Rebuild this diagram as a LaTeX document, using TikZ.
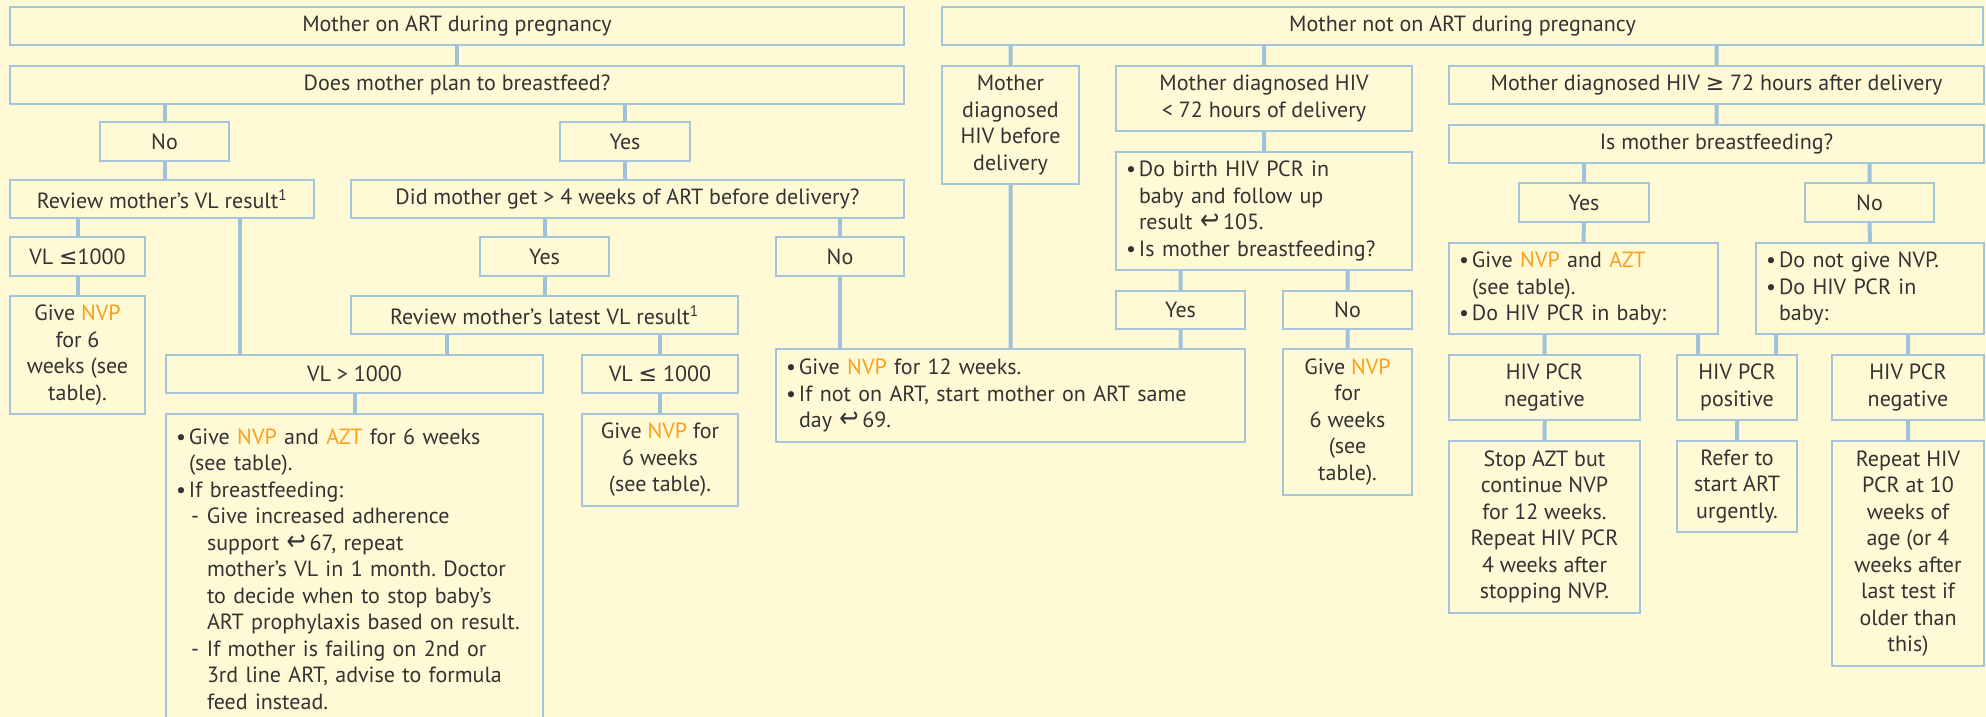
\documentclass[tikz,border=0pt]{standalone}
\usepackage{fontspec}
\setmainfont{PT Sans}
\newfontfamily\dvfont{DejaVu Sans}
\usepackage{tikz}
\frenchspacing

\definecolor{paper}{HTML}{FFF9D6}
\definecolor{boxblue}{HTML}{A3C6DC}
\definecolor{linkblue}{HTML}{9EC2D9}
\definecolor{ink}{HTML}{333333}
\definecolor{drug}{HTML}{F8A11D}

\newcommand\drug[1]{\textcolor{drug}{#1}}
\newcommand\pgref{{\dvfont\scalebox{1.05}[1.25]{↩}}}
\newcommand\vle{{\dvfont ≤}}
\newcommand\vge{{\dvfont ≥}}
\newcommand\bitem{\makebox[13pt][l]{\textbullet}}
\newcommand\bcont{\hspace*{13pt}}
\newcommand\ditem{\hspace*{15pt}\makebox[16pt][l]{-}}
\newcommand\dcont{\hspace*{31pt}}
\newcommand\boxfont{\fontsize{22}{26.5}\selectfont}

\tikzset{
  box/.style={draw=boxblue, line width=2pt, fill=paper, text=ink, inner sep=0pt, align=center, font=\boxfont},
  dims/.style 2 args={minimum width=#1pt, minimum height=#2pt},
  bulletbox/.style={box, align=left, inner xsep=10pt},
  link/.style={draw=linkblue, line width=4pt},
}

\begin{document}
\begin{tikzpicture}[x=1pt, y=-1pt]
\useasboundingbox (0,0) rectangle (1986,717);
\clip (0,0) rectangle (1986,717);
\fill[paper] (0,0) rectangle (1986,717);

% mother on ART
\node[box, dims={894}{38}] (onart) at (457,26) {Mother on ART during pregnancy};
\node[box, dims={894}{38}] (plan) at (457,85) {Does mother plan to breastfeed?};
\node[box, dims={129}{39}] (no1) at (164.5,141.5) {No};
\node[box, dims={130}{39}] (yes1) at (625,141.5) {Yes};
\node[box, dims={304}{38}] (review) at (162,199) {Review mother’s VL result\textsuperscript{1}};
\node[box, dims={553}{38}] (did) at (627.5,199) {Did mother get > 4 weeks of ART before delivery?};
\node[box, dims={135}{39}] (vlle1) at (77.5,256.5) {VL \vle1000};
\node[box, dims={135}{118}] (nvpleft) at (77.5,355) {Give \drug{NVP}\\for 6\\weeks (see\\table).};
\node[box, dims={129}{39}] (yes2) at (544.5,256.5) {Yes};
\node[box, dims={128}{39}] (no2) at (840,256.5) {No};
\node[box, dims={387}{38}] (latest) at (544.5,315) {Review mother’s latest VL result\textsuperscript{1}};
\node[box, dims={377}{38}] (vlhi) at (354.5,374) {VL > 1000};
\node[box, dims={156}{38}] (vlle2) at (660,374) {VL \vle{} 1000};
\node[bulletbox, dims={377}{310}, text width=357pt] (feedplan) at (354.5,569)
  {\bitem Give \drug{NVP} and \drug{AZT} for 6 weeks\\
   \bcont (see table).\\
   \bitem If breastfeeding:\\
   \ditem Give increased adherence\\
   \dcont support \pgref\,67, repeat\\
   \dcont mother's VL in 1 month. Doctor\\
   \dcont to decide when to stop baby’s\\
   \dcont ART prophylaxis based on result.\\
   \ditem If mother is failing on 2nd or\\
   \dcont 3rd line ART, advise to formula\\
   \dcont feed instead.};
\node[box, dims={156}{92}] (nvpmid) at (660,460) {Give \drug{NVP} for\\6 weeks\\(see table).};

% mother not on ART
\node[box, dims={1041}{38}] (notart) at (1462.5,26) {Mother not on ART during pregnancy};
\node[box, dims={137}{118}] (before) at (1010.5,125) {Mother\\diagnosed\\HIV before\\delivery};
\node[box, dims={296}{65}] (lt72) at (1264,98.5) {Mother diagnosed HIV\\< 72 hours of delivery};
\node[bulletbox, dims={296}{118}, text width=276pt] (birth) at (1264,211)
  {\bitem Do birth HIV PCR in\\
   \bcont baby and follow up\\
   \bcont result \pgref\,105.\\
   \bitem Is mother breastfeeding?};
\node[box, dims={129}{38}] (yes3) at (1180.5,310) {Yes};
\node[box, dims={129}{38}] (no3) at (1347.5,310) {No};
\node[bulletbox, dims={469}{93}, text width=449pt] (nvp12) at (1010.5,395.5)
  {\bitem Give \drug{NVP} for 12 weeks.\\
   \bitem If not on ART, start mother on ART same\\
   \bcont day \pgref\,69.};
\node[box, dims={129}{146}] (nvpright) at (1347.5,422) {Give \drug{NVP}\\for\\6 weeks\\(see\\table).};

\node[box, dims={535}{38}] (ge72) at (1716.5,85) {Mother diagnosed HIV \vge{} 72 hours after delivery};
\node[box, dims={535}{38}] (isbf) at (1716.5,144) {Is mother breastfeeding?};
\node[box, dims={130}{39}] (yes4) at (1584,202.5) {Yes};
\node[box, dims={129}{39}] (no4) at (1869.5,202.5) {No};
\node[bulletbox, dims={269}{91}, text width=249pt] (buly) at (1583.5,288.5)
  {\bitem Give \drug{NVP} and \drug{AZT}\\
   \bcont (see table).\\
   \bitem Do HIV PCR in baby:};
\node[bulletbox, dims={228}{91}, text width=208pt] (buln) at (1870,288.5)
  {\bitem Do not give NVP.\\
   \bitem Do HIV PCR in\\
   \bcont baby:};
\node[box, dims={191}{65}] (neg1) at (1544.5,387.5) {HIV PCR\\negative};
\node[box, dims={120}{65}] (pos) at (1737,387.5) {HIV PCR\\positive};
\node[box, dims={152}{65}] (neg2) at (1908,387.5) {HIV PCR\\negative};
\node[box, dims={191}{172}] (stop) at (1544.5,527) {Stop AZT but\\continue NVP\\for 12 weeks.\\Repeat HIV PCR\\4 weeks after\\stopping NVP.};
\node[box, dims={120}{91}] (refer) at (1737,486.5) {Refer to\\start ART\\urgently.};
\node[box, dims={152}{225}] (repeat) at (1908,553.5) {Repeat HIV\\PCR at 10\\weeks of\\age (or 4\\weeks after\\last test if\\older than\\this)};

% connectors
\draw[link]
  (onart.south) -- (plan.north)
  (plan.south -| no1) -- (no1.north)
  (plan.south -| yes1) -- (yes1.north)
  (no1.south) -- (no1.south |- review.north)
  (yes1.south) -- (yes1.south |- did.north)
  (review.south -| vlle1) -- (vlle1.north)
  (vlle1.south) -- (nvpleft.north)
  (review.south -| 240,0) -- (vlhi.north -| 240,0)
  (did.south -| yes2) -- (yes2.north)
  (yes2.south) -- (latest.north)
  (did.south -| no2) -- (no2.north)
  (latest.south -| 447,0) -- (vlhi.north -| 447,0)
  (latest.south -| vlle2) -- (vlle2.north)
  (vlhi.south) -- (feedplan.north)
  (vlle2.south) -- (nvpmid.north)
  (no2.south) -- (no2.south |- nvp12.north);
\draw[link]
  (notart.south -| before) -- (before.north)
  (before.south) -- (nvp12.north)
  (notart.south -| lt72) -- (lt72.north)
  (lt72.south) -- (birth.north)
  (birth.south -| yes3) -- (yes3.north)
  (birth.south -| no3) -- (no3.north)
  (yes3.south) -- (yes3.south |- nvp12.north)
  (no3.south) -- (nvpright.north)
  (notart.south -| ge72) -- (ge72.north)
  (ge72.south) -- (isbf.north)
  (isbf.south -| yes4) -- (yes4.north)
  (isbf.south -| no4) -- (no4.north)
  (yes4.south) -- (buly.north)
  (no4.south) -- (buln.north)
  (buly.south -| neg1) -- (neg1.north)
  (buly.south -| 1698,0) -- (pos.north -| 1698,0)
  (buln.south -| 1776,0) -- (pos.north -| 1776,0)
  (buln.south -| neg2) -- (neg2.north)
  (neg1.south) -- (stop.north)
  (pos.south) -- (refer.north)
  (neg2.south) -- (repeat.north);
\end{tikzpicture}
\end{document}
